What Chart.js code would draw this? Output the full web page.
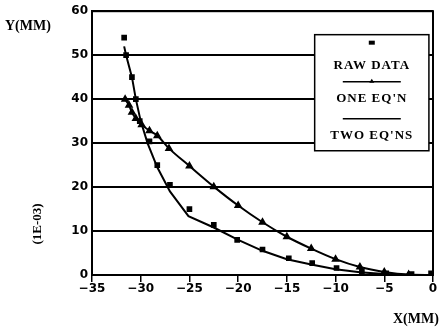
<!DOCTYPE html>
<html>
<head>
<meta charset="utf-8">
<script src="https://cdn.jsdelivr.net/npm/chart.js@4.4.1/dist/chart.umd.min.js"></script>
<style>
html,body{margin:0;padding:0;background:#fff;}
#wrap{position:relative;width:439px;height:333px;}
</style>
</head>
<body>
<div id="wrap"><canvas id="c" width="439" height="333"></canvas></div>
<script>
// ---- data ----
const rawX = [-31.7,-31.5,-30.9,-30.5,-30.1,-29.1,-28.3,-27.0,-25.0,-22.5,-20.1,-17.5,-14.8,-12.4,-9.9,-7.3,-4.8,-2.2,-0.2];
const rawY = [54.0,50.0,45.0,40.0,35.0,30.4,25.0,20.5,15.0,11.4,8.0,5.8,3.8,2.7,1.6,0.7,0.4,0.2,0.4];
const oneX = [-31.6,-31.2,-30.9,-30.5,-29.9,-29.1,-28.3,-27.1,-25.0,-22.5,-20.0,-17.5,-15.0,-12.5,-10.0,-7.5,-5.0,-2.5,0.0];
const oneY = [40.0,38.6,37.0,35.6,34.2,32.8,31.7,28.8,24.8,20.1,15.8,12.0,8.7,6.0,3.6,1.8,0.7,0.1,0.0];
const twoX = [-31.7,-31.5,-30.9,-30.5,-30.0,-29.3,-28.3,-27.0,-25.1,-22.5,-20.0,-17.5,-15.0,-12.5,-10.0,-7.5,-5.0,-2.5,0.0];
const twoY = [52.0,50.0,45.0,40.0,35.0,30.0,24.5,19.0,13.4,10.8,8.0,5.5,3.6,2.4,1.3,0.6,0.2,0.0,0.0];
const xTicks = [-35,-30,-25,-20,-15,-10,-5,0];
const yTicks = [0,10,20,30,40,50,60];
const seriesNames = ["RAW DATA","ONE EQ'N","TWO EQ'NS"];
const yTitle = "Y(MM)";
const yScaleNote = "(1E-03)";
const xTitle = "X(MM)";

const pts = (xs, ys) => xs.map((x, i) => ({x: x, y: ys[i]}));

const tickFont = {family: "'DejaVu Sans', sans-serif", size: 12, weight: 'bold'};

const decor = {
  id: 'decor',
  afterDatasetsDraw(chart) {
    const ctx = chart.ctx;
    const a = chart.chartArea;
    const w = a.right - a.left, h = a.bottom - a.top;
    const hasLS = ('letterSpacing' in ctx);
    ctx.save();
    // frame
    ctx.strokeStyle = '#000';
    ctx.lineWidth = 2;
    ctx.strokeRect(a.left, a.top, w, h);
    // legend box
    const bx = a.left + w * 0.653, by = a.top + h * 0.089;
    const bw = w * 0.335, bh = h * 0.44;
    ctx.fillStyle = '#fff';
    ctx.fillRect(bx, by, bw, bh);
    ctx.lineWidth = 1.5;
    ctx.strokeRect(bx, by, bw, bh);
    const cx = bx + bw / 2;
    ctx.fillStyle = '#000';
    // raw data marker
    ctx.fillRect(cx - 3, by + 6, 6, 4);
    ctx.font = "bold 13px 'Liberation Serif', 'DejaVu Serif', serif";
    if (hasLS) ctx.letterSpacing = '1px';
    ctx.textAlign = 'center';
    ctx.textBaseline = 'middle';
    ctx.fillText(seriesNames[0], cx, by + 31);
    // one eq'n line with triangle
    ctx.lineWidth = 1.5;
    ctx.beginPath(); ctx.moveTo(cx - 29, by + 47); ctx.lineTo(cx + 29, by + 47); ctx.stroke();
    ctx.beginPath(); ctx.moveTo(cx - 2.5, by + 48); ctx.lineTo(cx + 2.5, by + 48); ctx.lineTo(cx, by + 44); ctx.closePath(); ctx.fill();
    ctx.fillText(seriesNames[1], cx, by + 64);
    ctx.beginPath(); ctx.moveTo(cx - 29, by + 84); ctx.lineTo(cx + 29, by + 84); ctx.stroke();
    ctx.fillText(seriesNames[2], cx, by + 101);
    if (hasLS) ctx.letterSpacing = '0px';
    // axis titles
    ctx.textAlign = 'left';
    ctx.font = "bold 14px 'Liberation Serif', 'DejaVu Serif', serif";
    ctx.fillText(yTitle, 5, 26);
    ctx.fillText(xTitle, 393, 319);
    ctx.save();
    ctx.translate(38, 224);
    ctx.rotate(-Math.PI / 2);
    ctx.textAlign = 'center';
    ctx.font = "bold 13px 'Liberation Serif', 'DejaVu Serif', serif";
    ctx.fillText(yScaleNote, 0, 0);
    ctx.restore();
    ctx.restore();
  }
};

new Chart(document.getElementById('c'), {
  type: 'scatter',
  data: {
    datasets: [
      {label: seriesNames[0], data: pts(rawX, rawY), showLine: false,
       pointStyle: 'rect', pointRadius: 4, backgroundColor: '#000', borderColor: '#000', borderWidth: 0},
      {label: seriesNames[1], data: pts(oneX, oneY), showLine: true, tension: 0.3, cubicInterpolationMode: 'monotone',
       pointStyle: 'triangle', pointRadius: 3, backgroundColor: '#000', borderColor: '#000', borderWidth: 2},
      {label: seriesNames[2], data: pts(twoX, twoY), showLine: true, tension: 0,
       pointRadius: 0, borderColor: '#000', borderWidth: 2}
    ]
  },
  options: {
    responsive: false,
    animation: false,
    layout: {padding: {top: 0, right: 4, left: 0, bottom: 0}},
    plugins: {legend: {display: false}, tooltip: {enabled: false}},
    scales: {
      x: {
        type: 'linear', min: -35, max: 0,
        afterBuildTicks: s => { s.ticks = xTicks.map(v => ({value: v})); },
        afterFit: s => { s.height = 58; },
        border: {display: true, color: '#000', width: 2},
        grid: {drawOnChartArea: false, drawTicks: true, tickLength: 7, color: '#000', lineWidth: 1.5},
        ticks: {color: '#000', font: tickFont, padding: 0, maxRotation: 0,
                callback: v => String(v).replace('-', '\u2212')}
      },
      y: {
        type: 'linear', min: 0, max: 60,
        afterBuildTicks: s => { s.ticks = yTicks.map(v => ({value: v})); },
        afterFit: s => { s.width = 92; },
        border: {display: true, color: '#000', width: 2},
        grid: {drawOnChartArea: true, drawTicks: false, color: '#000', lineWidth: 2},
        ticks: {color: '#000', font: tickFont, padding: 4}
      }
    }
  },
  plugins: [decor]
});
</script>
</body>
</html>
